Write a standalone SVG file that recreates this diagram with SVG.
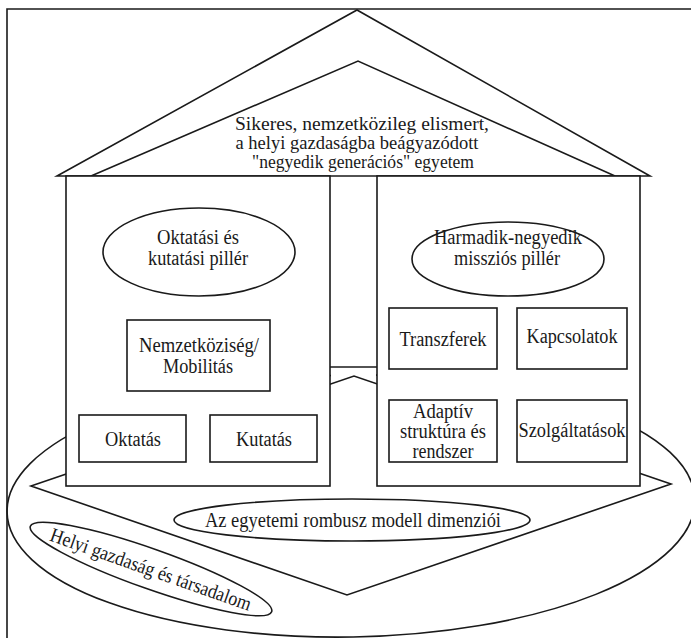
<svg xmlns="http://www.w3.org/2000/svg" width="691" height="638" viewBox="0 0 691 638">
<style>
.s{fill:none;stroke:#1a1a1a;stroke-width:1.6}
.w{fill:#fff;stroke:#1a1a1a;stroke-width:1.6}
.m{fill:#fff;stroke:none}
text{font-family:"Liberation Serif","Times New Roman",serif;font-size:20px;fill:#1a1a1a;text-anchor:middle}
.t{font-size:19px}
</style>
<rect width="691" height="638" fill="#fff"/>
<path class="s" d="M7,640 V9 H693"/>
<g id="society">
<ellipse class="s" cx="351" cy="506" rx="344" ry="131" transform="rotate(-1 351 506)"/>
</g>
<rect class="m" x="331" y="177" width="45" height="235"/>
<g id="rhombus">
<polygon class="s" points="31,486 354,376 671,484 347,595"/>
</g>
<g id="rhombus-label">
<ellipse class="w" cx="352" cy="520" rx="178" ry="21"/>
<text x="353" y="527" textLength="296" lengthAdjust="spacingAndGlyphs">Az egyetemi rombusz modell dimenziói</text>
</g>
<g id="local-economy">
<g transform="translate(151 569) rotate(19.5)">
<ellipse class="w" cx="0" cy="0" rx="128" ry="20"/>
<text x="0" y="7" textLength="212" lengthAdjust="spacingAndGlyphs">Helyi gazdaság és társadalom</text>
</g>
</g>
<g id="roof">
<polygon class="w" points="57,176 357,10 650,176"/>
<polyline class="s" points="91,176 358,61 615,176"/>
<text class="t" x="362" y="130" textLength="254" lengthAdjust="spacingAndGlyphs">Sikeres, nemzetközileg elismert,</text>
<text class="t" x="357" y="149" textLength="243" lengthAdjust="spacingAndGlyphs">a helyi gazdaságba beágyazódott</text>
<text class="t" x="363" y="168" textLength="222" lengthAdjust="spacingAndGlyphs">"negyedik generációs" egyetem</text>
</g>
<g id="connectors">
<line class="s" x1="330" y1="367" x2="377" y2="367"/>
</g>
<g id="left-pillar">
<rect class="w" x="66" y="176" width="264" height="310"/>
</g>
<g id="right-pillar">
<rect class="w" x="377" y="176" width="263" height="310"/>
</g>
<g id="oktatasi-piller">
<ellipse class="w" cx="199" cy="252" rx="96" ry="44"/>
<text x="198" y="244" textLength="82" lengthAdjust="spacingAndGlyphs">Oktatási és</text>
<text x="198" y="265" textLength="100" lengthAdjust="spacingAndGlyphs">kutatási pillér</text>
</g>
<g id="nemzetkoziseg">
<rect class="w" x="127" y="320" width="143" height="71"/>
<text x="199" y="352" textLength="120" lengthAdjust="spacingAndGlyphs">Nemzetköziség/</text>
<text x="198" y="373" textLength="70" lengthAdjust="spacingAndGlyphs">Mobilitás</text>
</g>
<g id="oktatas">
<rect class="w" x="79" y="415" width="107" height="47"/>
<text x="133" y="446" textLength="56" lengthAdjust="spacingAndGlyphs">Oktatás</text>
</g>
<g id="kutatas">
<rect class="w" x="210" y="415" width="107" height="47"/>
<text x="264" y="446" textLength="56" lengthAdjust="spacingAndGlyphs">Kutatás</text>
</g>
<g id="harmadik-piller">
<ellipse class="w" cx="508" cy="259" rx="96" ry="37"/>
<text x="508" y="244" textLength="148" lengthAdjust="spacingAndGlyphs">Harmadik-negyedik</text>
<text x="507" y="265" textLength="106" lengthAdjust="spacingAndGlyphs">missziós pillér</text>
</g>
<g id="transzferek">
<rect class="w" x="389" y="308" width="108" height="61"/>
<text x="443" y="346" textLength="87" lengthAdjust="spacingAndGlyphs">Transzferek</text>
</g>
<g id="kapcsolatok">
<rect class="w" x="517" y="308" width="110" height="61"/>
<text x="572" y="343" textLength="91" lengthAdjust="spacingAndGlyphs">Kapcsolatok</text>
</g>
<g id="adaptiv">
<rect class="w" x="389" y="400" width="108" height="62"/>
<text x="443" y="418" textLength="60" lengthAdjust="spacingAndGlyphs">Adaptív</text>
<text x="443" y="438" textLength="86" lengthAdjust="spacingAndGlyphs">struktúra és</text>
<text x="443" y="458" textLength="61" lengthAdjust="spacingAndGlyphs">rendszer</text>
</g>
<g id="szolgaltatasok">
<rect class="w" x="517" y="400" width="110" height="62"/>
<text x="572" y="437" textLength="107" lengthAdjust="spacingAndGlyphs">Szolgáltatások</text>
</g>
</svg>
